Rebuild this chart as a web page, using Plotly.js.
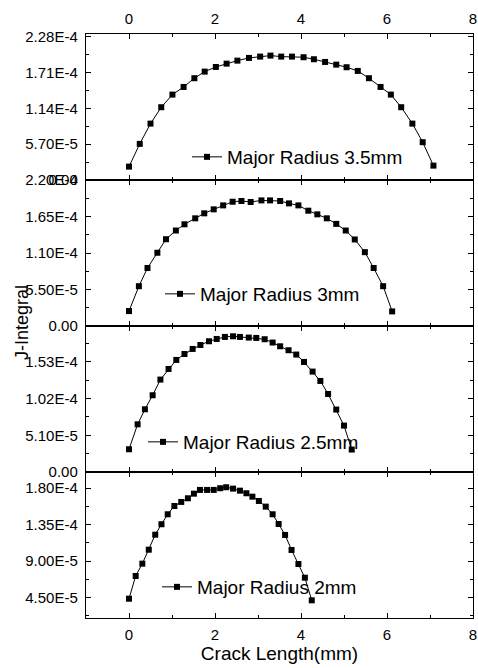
<!DOCTYPE html>
<html><head><meta charset="utf-8">
<script src="https://cdn.plot.ly/plotly-3.0.1.min.js"></script>
<style>html,body{margin:0;padding:0;background:#fff;}#chart{width:478px;height:668px;}</style>
</head><body><div id="chart"></div>
<script>
// Crack length (mm) and J-Integral values per major radius
const x35 = [0,0.25,0.5,0.75,1.01,1.27,1.52,1.76,2.02,2.27,2.52,2.79,3.05,3.29,3.54,3.79,4.06,4.30,4.56,4.82,5.06,5.32,5.58,5.85,6.09,6.33,6.59,6.83,7.08];
const j35 = [2.13e-5,5.75e-5,8.98e-5,1.159e-4,1.36e-4,1.482e-4,1.621e-4,1.726e-4,1.80e-4,1.853e-4,1.901e-4,1.944e-4,1.965e-4,1.981e-4,1.965e-4,1.965e-4,1.955e-4,1.923e-4,1.880e-4,1.837e-4,1.796e-4,1.737e-4,1.621e-4,1.482e-4,1.36e-4,1.159e-4,8.98e-5,6.02e-5,2.29e-5];

const x30 = [0,0.23,0.43,0.66,0.86,1.09,1.29,1.54,1.75,1.97,2.19,2.41,2.615,2.83,3.08,3.28,3.515,3.72,3.94,4.17,4.38,4.60,4.82,5.04,5.25,5.485,5.69,5.91,6.12];
const j30 = [2.25e-5,6.0e-5,8.74e-5,1.104e-4,1.308e-4,1.439e-4,1.533e-4,1.623e-4,1.698e-4,1.758e-4,1.818e-4,1.873e-4,1.884e-4,1.869e-4,1.893e-4,1.893e-4,1.884e-4,1.848e-4,1.818e-4,1.738e-4,1.683e-4,1.623e-4,1.539e-4,1.439e-4,1.304e-4,1.113e-4,8.74e-5,6.0e-5,2.2e-5];

const x25 = [0,0.20,0.37,0.55,0.73,0.92,1.10,1.29,1.48,1.66,1.86,2.04,2.23,2.42,2.58,2.785,2.96,3.155,3.34,3.515,3.71,3.89,4.07,4.27,4.45,4.63,4.82,5.00,5.18];
const j25 = [3.16e-5,6.63e-5,8.72e-5,1.067e-4,1.285e-4,1.433e-4,1.558e-4,1.641e-4,1.711e-4,1.766e-4,1.818e-4,1.85e-4,1.878e-4,1.887e-4,1.878e-4,1.869e-4,1.864e-4,1.846e-4,1.80e-4,1.748e-4,1.693e-4,1.633e-4,1.53e-4,1.396e-4,1.266e-4,1.085e-4,8.68e-5,6.45e-5,3.12e-5];

const x20 = [0,0.155,0.31,0.46,0.61,0.755,0.90,1.055,1.215,1.37,1.51,1.65,1.815,1.97,2.12,2.26,2.42,2.58,2.73,2.87,3.02,3.18,3.34,3.48,3.63,3.78,3.94,4.09,4.25];
const j20 = [4.38e-5,7.18e-5,8.70e-5,1.042e-4,1.227e-4,1.356e-4,1.479e-4,1.581e-4,1.631e-4,1.676e-4,1.733e-4,1.779e-4,1.779e-4,1.779e-4,1.80e-4,1.812e-4,1.795e-4,1.77e-4,1.738e-4,1.696e-4,1.643e-4,1.573e-4,1.479e-4,1.359e-4,1.224e-4,1.039e-4,8.66e-5,6.97e-5,4.18e-5];

const names = ["Major Radius 3.5mm","Major Radius 3mm","Major Radius 2.5mm","Major Radius 2mm"];

const xTickVals = [0,2,4,6,8];
const xTickText = ["0","2","4","6","8"];

const yTick1 = [0,5.7e-5,1.14e-4,1.71e-4,2.28e-4];
const yText1 = ["0.00","5.70E-5","1.14E-4","1.71E-4","2.28E-4"];
const yTick2 = [0,5.5e-5,1.1e-4,1.65e-4,2.2e-4];
const yText2 = ["0.00","5.50E-5","1.10E-4","1.65E-4","2.20E-4"];
const yTick3 = [0,5.1e-5,1.02e-4,1.53e-4,2.04e-4];
const yText3 = ["0.00","5.10E-5","1.02E-4","1.53E-4","2.04E-4"];
const yTick4 = [4.5e-5,9.0e-5,1.35e-4,1.8e-4];
const yText4 = ["4.50E-5","9.00E-5","1.35E-4","1.80E-4"];

const FONT = "Liberation Sans, Arial, sans-serif";
const xs = [x35,x30,x25,x20], ys = [j35,j30,j25,j20];
const traces = xs.map((x,i)=>({
  x:x, y:ys[i], type:'scatter', mode:'lines+markers', name:names[i],
  showlegend:true,
  xaxis: i===0?'x':'x'+(i+1), yaxis: i===0?'y':'y'+(i+1),
  legend: i===0?'legend':'legend'+(i+1),
  line:{color:'#000', width:1},
  marker:{symbol:'square', size:6, color:'#000'}
}));

function minorVals(major){
  const step = major[1]-major[0];
  const out=[];
  for(let k=-1;k<major.length;k++){ out.push(major[0]+step*(k+0.5)); }
  return out;
}

function xax(i){
  const a = {
    range:[-1,8], tickvals:xTickVals, ticktext:xTickText,
    ticks:'inside', ticklen:5, tickwidth:1, tickcolor:'#000',
    showline:true, linecolor:'#000', linewidth:1.2, mirror:'ticks',
    showgrid:false, zeroline:false,
    minor:{tickvals:[-1,1,3,5,7], ticks:'inside', ticklen:3, tickcolor:'#000', showgrid:false},
    anchor: i===0?'y':'y'+(i+1),
    tickfont:{family:FONT, size:15, color:'#000'},
    ticklabelstandoff:3
  };
  if(i===0){ a.side='top'; a.showticklabels=true; }
  else if(i===3){ a.side='bottom'; a.showticklabels=true;
    a.title={text:'Crack Length(mm)', font:{family:FONT,size:19,color:'#000'}, standoff:3}; }
  else { a.showticklabels=false; }
  if(i>0) a.matches='x';
  return a;
}
function yax(i, range, tv, tt, dom){
  return {
    domain:dom, range:range, tickvals:tv, ticktext:tt,
    ticks:'inside', ticklen:5, tickwidth:1, tickcolor:'#000',
    showline:true, linecolor:'#000', linewidth:1.2, mirror:'ticks',
    showgrid:false, zeroline:false,
    minor:{tickvals:minorVals(tv), ticks:'inside', ticklen:3, tickcolor:'#000', showgrid:false},
    anchor: i===0?'x':'x'+(i+1),
    tickfont:{family:FONT, size:15, color:'#000'},
    ticklabelstandoff:4
  };
}
function leg(xp, yp){
  return {x:xp, y:yp, xanchor:'left', yanchor:'middle', xref:'paper', yref:'paper',
    bgcolor:'rgba(0,0,0,0)', borderwidth:0, font:{family:FONT,size:19,color:'#000'}};
}
const W=387, H=584;
const layout = {
  width:478, height:668, paper_bgcolor:'#fff', plot_bgcolor:'#fff',
  margin:{l:86, r:5, t:34, b:50},
  showlegend:true,
  font:{family:FONT, color:'#000'},
  xaxis:xax(0), xaxis2:xax(1), xaxis3:xax(2), xaxis4:xax(3),
  yaxis: yax(0,[0,2.325e-4],yTick1,yText1,[0.75,1]),
  yaxis2:yax(1,[0,2.2005e-4],yTick2,yText2,[0.5,0.75]),
  yaxis3:yax(2,[0,2.03e-4],yTick3,yText3,[0.25,0.5]),
  yaxis4:yax(3,[2.0e-5,2.0e-4],yTick4,yText4,[0,0.25]),
  legend: leg((187-86)/W,(618-157)/H),
  legend2:leg((160-86)/W,(618-294)/H),
  legend3:leg((143-86)/W,(618-442)/H),
  legend4:leg((157-86)/W,(618-587)/H),
  annotations:[{text:'J-Integral', xref:'paper', yref:'paper', x:(22-86)/W, y:(618-323)/H,
    xanchor:'center', yanchor:'middle', textangle:-90, showarrow:false,
    font:{family:FONT,size:18,color:'#000'}}]
};
Plotly.newPlot('chart', traces, layout, {displayModeBar:false, staticPlot:true});
</script></body></html>
